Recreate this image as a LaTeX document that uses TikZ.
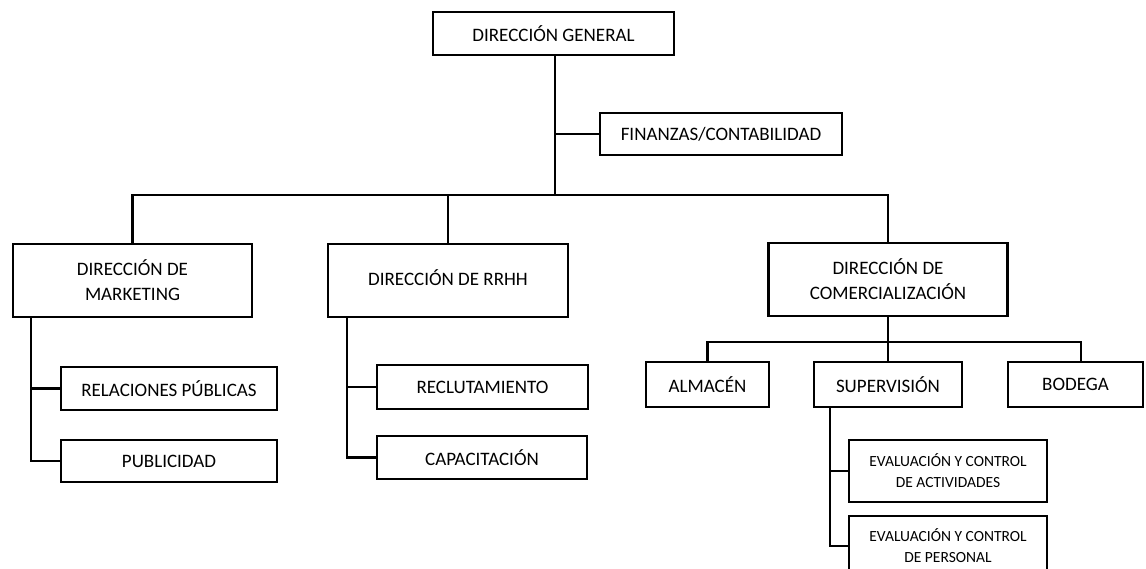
\documentclass[tikz,border=0pt]{standalone}
\usepackage{fontspec}
\setmainfont{Carlito}
\begin{document}
\begin{tikzpicture}[x=1pt,y=-1pt,
  box/.style={draw=black, line width=2.2pt, fill=white, inner sep=0pt, align=center,
    font=\fontsize{19}{25}\selectfont},
  small/.style={font=\fontsize{15.5}{21}\selectfont},
  conn/.style={draw=black, line width=2.6pt}]
\useasboundingbox[fill=white] (0,0) rectangle (1146,569);
% nodes
\node[box, minimum width=241pt, minimum height=43pt] (dg) at (553.5,33.5) {DIRECCIÓN GENERAL};
\node[box, minimum width=242pt, minimum height=42pt] (fin) at (721,134) {FINANZAS/CONTABILIDAD};
\node[box, minimum width=239pt, minimum height=73pt] (mk) at (132.5,280.5) {DIRECCIÓN DE\\MARKETING};
\node[box, minimum width=240pt, minimum height=73pt] (rh) at (448,280.5) {\raisebox{6pt}{DIRECCIÓN DE RRHH}};
\node[box, minimum width=239pt, minimum height=73pt] (com) at (888,279.5) {DIRECCIÓN DE\\COMERCIALIZACIÓN};
\node[box, minimum width=216pt, minimum height=43pt] (rp) at (169,388.5) {RELACIONES PÚBLICAS};
\node[box, minimum width=216pt, minimum height=42pt] (pub) at (169,461) {PUBLICIDAD};
\node[box, minimum width=211pt, minimum height=44pt] (rec) at (482.5,387) {RECLUTAMIENTO};
\node[box, minimum width=210pt, minimum height=43pt] (cap) at (482,457.5) {CAPACITACIÓN};
\node[box, minimum width=123pt, minimum height=45pt] (alm) at (707.5,384.5) {ALMACÉN};
\node[box, minimum width=148pt, minimum height=45pt] (sup) at (888,384.5) {SUPERVISIÓN};
\node[box, minimum width=135pt, minimum height=45pt] (bod) at (1075.5,384.5) {BODEGA};
\node[box, small, minimum width=198pt, minimum height=62pt] (eva) at (948,471) {EVALUACIÓN Y CONTROL\\DE ACTIVIDADES};
\node[box, small, minimum width=198pt, minimum height=60pt] (evp) at (948,546) {EVALUACIÓN Y CONTROL\\DE PERSONAL};
% helper coordinates
\coordinate (bus) at (555,195);
\coordinate (bus2) at (com.south |- 0,342);
\coordinate (mkt) at (31,317);
\coordinate (rht) at (347,317);
\coordinate (supt) at (830,407);
\coordinate (bodc) at (1081,362);
% connectors
\draw[conn] (dg.south -| bus) -- (bus);
\draw[conn] (dg.south -| bus) |- (fin.west);
\draw[conn] (mk.north) |- (com.north |- bus) -- (com.north);
\draw[conn] (rh.north |- bus) -- (rh.north);
\draw[conn] (mkt) |- (pub.west);
\draw[conn] (mkt |- rp.west) -- (rp.west);
\draw[conn] (rht) |- (cap.west);
\draw[conn] (rht |- rec.west) -- (rec.west);
\draw[conn] (com.south) -- (bus2);
\draw[conn] (alm.north) |- (bodc |- bus2) -- (bodc);
\draw[conn] (bus2) -- (sup.north);
\draw[conn] (supt) |- (evp.west);
\draw[conn] (supt |- eva.west) -- (eva.west);
\end{tikzpicture}
\end{document}
